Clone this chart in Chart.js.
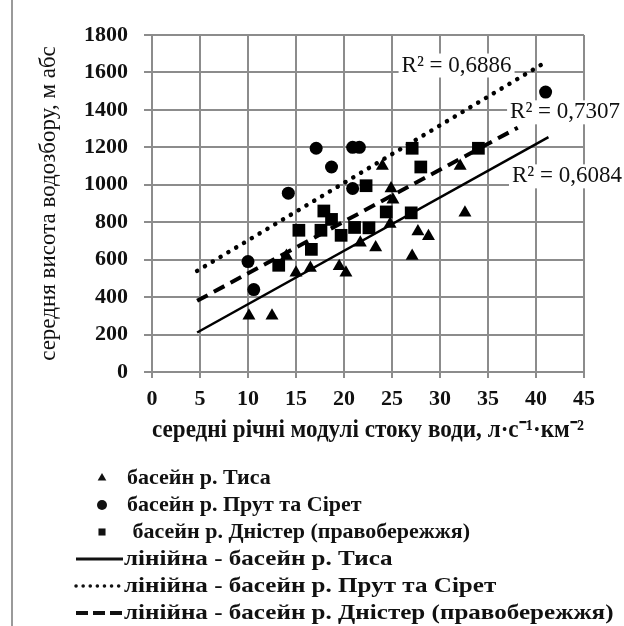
<!DOCTYPE html>
<html>
<head>
<meta charset="utf-8">
<script src="https://cdn.jsdelivr.net/npm/chart.js@4.4.0/dist/chart.umd.min.js"></script>
<style>
  body { margin: 0; background: #fff; }
  #wrap { position: relative; width: 624px; height: 626px; }
  #frame { position: absolute; left: 11px; top: 0; bottom: 0; border-left: 2px solid #9a9a9a; }
</style>
</head>
<body>
<div id="wrap">
  <canvas id="chart" width="624" height="626"></canvas>
  <div id="frame"></div>
</div>
<script>
// values
// басейн р. Тиса
const tisaX = [10.1, 12.5, 14.0, 15.0, 16.5, 19.5, 20.2, 21.7, 23.3, 24.0, 24.9, 25.1, 24.8, 27.1, 27.7, 28.8, 32.1, 32.6];
const tisaY = [300, 300, 620, 530, 555, 565, 530, 690, 665, 1100, 980, 920, 790, 620, 750, 725, 1100, 850];
// басейн р. Прут та Сірет
const prutX = [10.0, 10.6, 14.2, 17.1, 18.7, 20.9, 21.6, 20.9, 41.0];
const prutY = [590, 440, 955, 1195, 1095, 1200, 1200, 980, 1495];
// басейн р. Дністер (правобережжя)
const dnisterX = [13.2, 15.3, 16.6, 17.6, 17.9, 18.7, 19.7, 21.1, 22.6, 22.3, 24.4, 27.0, 27.1, 28.0, 34.0];
const dnisterY = [570, 757, 655, 757, 860, 815, 730, 772, 770, 995, 855, 850, 1195, 1095, 1195];

// linear trend lines (end points)
const tisaTrendX = [4.7, 41.3];
const tisaTrendY = [211, 1255];
const prutTrendX = [4.7, 41.0];
const prutTrendY = [540, 1655];
const dnisterTrendX = [4.7, 38.1];
const dnisterTrendY = [380, 1305];

const r2Texts = ['R² = 0,6886', 'R² = 0,7307', 'R² = 0,6084'];

const xTicks = [0, 5, 10, 15, 20, 25, 30, 35, 40, 45];
const yTicks = [0, 200, 400, 600, 800, 1000, 1200, 1400, 1600, 1800];

const serif = "'Liberation Serif', 'Times New Roman', serif";
const gridGrey = '#8c8c8c';

function toPoints(xs, ys) {
    return xs.map((x, i) => ({ x: x, y: ys[i] }));
}

// R² labels with white box, drawn over the grid but under the marks
const r2Labels = {
    id: 'r2Labels',
    beforeDatasetsDraw(chart, args, opts) {
        const ctx = chart.ctx;
        const xs = chart.scales.x, ys = chart.scales.y;
        ctx.save();
        ctx.font = opts.font;
        ctx.textBaseline = 'middle';
        opts.items.forEach(it => {
            const px = xs.getPixelForValue(it.x);
            const py = ys.getPixelForValue(it.y);
            const w = ctx.measureText(it.text).width;
            ctx.fillStyle = '#fff';
            ctx.fillRect(px - 3, py - 12, w + 6, 24);
            ctx.fillStyle = '#111';
            ctx.fillText(it.text, px, py);
        });
        ctx.restore();
    }
};

// one-column legend below the chart
const columnLegend = {
    id: 'columnLegend',
    afterDraw(chart, args, opts) {
        const ctx = chart.ctx;
        ctx.save();
        ctx.font = opts.font;
        ctx.textBaseline = 'middle';
        chart.data.datasets.forEach((ds, i) => {
            const y = opts.top + i * opts.rowHeight;
            ctx.fillStyle = '#111';
            ctx.strokeStyle = '#111';
            if (ds.showLine) {
                ctx.lineWidth = ds.legendWidth;
                ctx.lineCap = ds.borderCapStyle || 'butt';
                ctx.setLineDash(ds.legendDash || []);
                ctx.beginPath();
                ctx.moveTo(opts.lineFrom, y);
                ctx.lineTo(opts.lineTo, y);
                ctx.stroke();
                ctx.setLineDash([]);
                // the trend-line captions are set wider in the original
                ctx.save();
                ctx.translate(opts.lineTo + 1, y);
                ctx.scale(opts.lineTextStretch, 1);
                ctx.fillText(ds.label, 0, 0);
                ctx.restore();
            } else {
                Chart.helpers.drawPoint(ctx, { pointStyle: ds.pointStyle, radius: opts.markerRadius, borderWidth: 0, rotation: 0 }, opts.markerX, y);
                ctx.fillText(ds.label, opts.textX, y);
            }
        });
        ctx.restore();
    }
};

new Chart(document.getElementById('chart'), {
    type: 'scatter',
    data: {
        datasets: [
            { label: 'басейн р. Тиса', data: toPoints(tisaX, tisaY), pointStyle: 'triangle', pointRadius: 7.5, backgroundColor: '#000', borderWidth: 0, order: 2 },
            { label: 'басейн р. Прут та Сірет', data: toPoints(prutX, prutY), pointStyle: 'circle', pointRadius: 6.5, backgroundColor: '#000', borderWidth: 0, order: 2 },
            { label: ' басейн р. Дністер (правобережжя)', data: toPoints(dnisterX, dnisterY), pointStyle: 'rect', pointRadius: 9, backgroundColor: '#000', borderWidth: 0, order: 2 },
            { label: 'лінійна - басейн р. Тиса', type: 'line', data: toPoints(tisaTrendX, tisaTrendY), showLine: true, pointRadius: 0, borderColor: '#000', borderWidth: 2.5, legendWidth: 3, order: 1 },
            { label: 'лінійна - басейн р. Прут та Сірет', type: 'line', data: toPoints(prutTrendX, prutTrendY), showLine: true, pointRadius: 0, borderColor: '#000', borderWidth: 4.5, borderDash: [0.1, 9], borderCapStyle: 'round', legendWidth: 3.5, legendDash: [0.1, 7], order: 1 },
            { label: 'лінійна - басейн р. Дністер (правобережжя)', type: 'line', data: toPoints(dnisterTrendX, dnisterTrendY), showLine: true, pointRadius: 0, borderColor: '#000', borderWidth: 4, borderDash: [12, 7], legendWidth: 4, legendDash: [12, 5], order: 1 }
        ]
    },
    options: {
        responsive: false,
        animation: false,
        layout: { padding: { top: 35, right: 40, bottom: 180, left: 0 } },
        plugins: {
            legend: { display: false },
            tooltip: { enabled: false },
            r2Labels: {
                font: '23px ' + serif,
                items: [
                    { text: r2Texts[0], x: 26.0, y: 1637 },
                    { text: r2Texts[1], x: 37.3, y: 1387 },
                    { text: r2Texts[2], x: 37.5, y: 1045 }
                ]
            },
            columnLegend: {
                font: 'bold 22px ' + serif,
                lineTextStretch: 1.14,
                top: 478, rowHeight: 27,
                markerX: 102, markerRadius: 5, textX: 127,
                lineFrom: 76, lineTo: 123
            }
        },
        scales: {
            x: {
                type: 'linear', min: 0, max: 45,
                afterBuildTicks: s => { s.ticks = xTicks.map(v => ({ value: v })); },
                afterFit: s => { s.height = 74; },
                grid: { color: gridGrey, lineWidth: 2, tickLength: 6 },
                border: { color: gridGrey, width: 2 },
                ticks: { color: '#111', padding: 8, font: { family: serif, size: 22, weight: 'bold' }, callback: v => String(v) },
                title: {
                    display: true, color: '#111',
                    text: 'середні річні модулі стоку води, л·с⁻¹·км⁻²',
                    font: { family: serif, size: 25, weight: 'bold' },
                    padding: { top: 0, bottom: 0 }
                }
            },
            y: {
                type: 'linear', min: 0, max: 1800,
                afterBuildTicks: s => { s.ticks = yTicks.map(v => ({ value: v })); },
                afterFit: s => { s.width = 152; },
                grid: { color: gridGrey, lineWidth: 2, tickLength: 8 },
                border: { color: gridGrey, width: 2 },
                ticks: { color: '#111', padding: 16, font: { family: serif, size: 22, weight: 'bold' }, callback: v => String(v) },
                title: {
                    display: true, color: '#111',
                    text: 'середня висота водозбору, м абс',
                    font: { family: serif, size: 23 },
                    padding: { top: 35, bottom: 0 }
                }
            }
        }
    },
    plugins: [r2Labels, columnLegend]
});
</script>
</body>
</html>
